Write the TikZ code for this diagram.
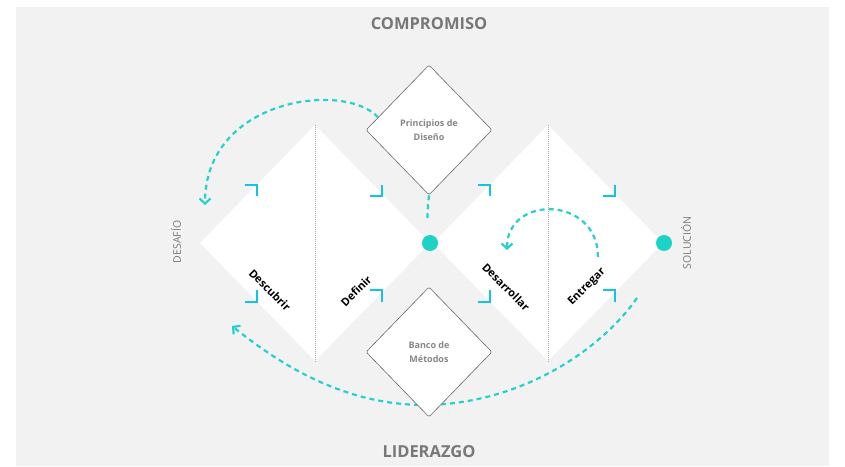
\documentclass[tikz,border=0pt]{standalone}
\usepackage{fontspec}
\setmainfont{Open Sans}
\usetikzlibrary{shapes.geometric,arrows.meta}

\definecolor{bggray}{RGB}{242,242,242}
\definecolor{tealdot}{RGB}{29,211,200}
\definecolor{flowcol}{RGB}{40,208,204}
\definecolor{cornercol}{RGB}{18,196,226}
\definecolor{txtgray}{RGB}{120,120,120}
\definecolor{linegray}{RGB}{105,105,105}

\tikzset{
  bigdia/.style={diamond, fill=white, inner sep=0pt, minimum width=230pt, minimum height=236pt},
  smalldia/.style={diamond, draw=linegray, line width=0.6pt, fill=white, rounded corners=2pt, inner sep=0pt,
    minimum width=126pt, minimum height=130pt, align=center, text=txtgray!90, font=\bfseries\fontsize{9}{14}\selectfont},
  phase/.style={font=\bfseries\fontsize{11}{13}\selectfont, text=black},
  side/.style={font=\fontsize{10.5}{12}\selectfont, text=txtgray, rotate=90},
  title/.style={font=\bfseries\fontsize{16.5}{20}\selectfont, text=txtgray},
  dot/.style={circle, fill=tealdot, inner sep=0pt, minimum size=16pt},
  divider/.style={draw=gray!70, line width=0.5pt, dash pattern=on 1pt off 1pt},
  flow/.style={draw=flowcol, line width=2.2pt, dash pattern=on 5pt off 4pt},
  barb/.style={-{Straight Barb[length=5pt,width=11pt]}},
  corner/.style={draw=cornercol, line width=2.6pt}
}

\begin{document}
\begin{tikzpicture}[x=1pt, y=1pt]
  \useasboundingbox (0,0) rectangle (845,466);
  \fill[bggray] (16,0) rectangle (829,459);

  % titles
  \node[title] (compromiso) at (429,442) {COMPROMISO};
  \node[title] (liderazgo) at (429,14) {LIDERAZGO};
  \node[side] (desafio) at (176,224) {DESAFÍO};
  \node[side] (solucion) at (686,223) {SOLUCIÓN};

  % double diamond
  \node[bigdia] (problem) at (315,223) {};
  \node[bigdia] (solution) at (548,223) {};
  \draw[divider] (problem.north) -- (problem.south);
  \draw[divider] (solution.north) -- (solution.south);

  \node[phase, rotate=-45] (descubrir) at (270,176) {Descubrir};
  \node[phase, rotate=45] (definir) at (356,175) {Definir};
  \node[phase, rotate=-45] (desarrollar) at (506,179) {Desarrollar};
  \node[phase, rotate=45] (entregar) at (587,179) {Entregar};

  \node[dot] (middot) at (430,223) {};
  \node[dot] (enddot) at (664,223) {};

  % corner marks
  \draw[corner] (245,281) -- (257,281) -- (257,270);
  \draw[corner] (382,281) -- (382,270) -- (370,270);
  \draw[corner] (257,176) -- (257,164) -- (245,164);
  \draw[corner] (370,176) -- (382,176) -- (382,164);
  \draw[corner] (478,281) -- (490,281) -- (490,270);
  \draw[corner] (615,281) -- (615,270) -- (603,270);
  \draw[corner] (490,176) -- (490,164) -- (478,164);
  \draw[corner] (603,176) -- (615,176) -- (615,164);

  % loops
  \coordinate (desafioin) at (205,261);
  \coordinate (entregarout) at (637,168);
  \coordinate (bottom) at (425,61);
  \coordinate (descubririn) at (232,140);
  \coordinate (innerstart) at (598,209);
  \coordinate (innerend) at (507,216);

  \draw[flow, barb] (entregarout) .. controls (600,115) and (520,62) .. (bottom)
    .. controls (345,61) and (282,100) .. (descubririn);
  \draw[flow, barb] (innerstart) .. controls (598,270) and (507,272) .. (innerend);

  \node[smalldia] (principios) at (429,336) {Principios de\\Diseño};
  \node[smalldia] (banco) at (429,114) {Banco de\\Métodos};

  \draw[flow, barb] (principios.166) .. controls (345,385) and (205,368) .. (desafioin);
  \draw[flow, shorten >=14pt] (principios.south) to[bend right=8] (middot.north);
\end{tikzpicture}
\end{document}
